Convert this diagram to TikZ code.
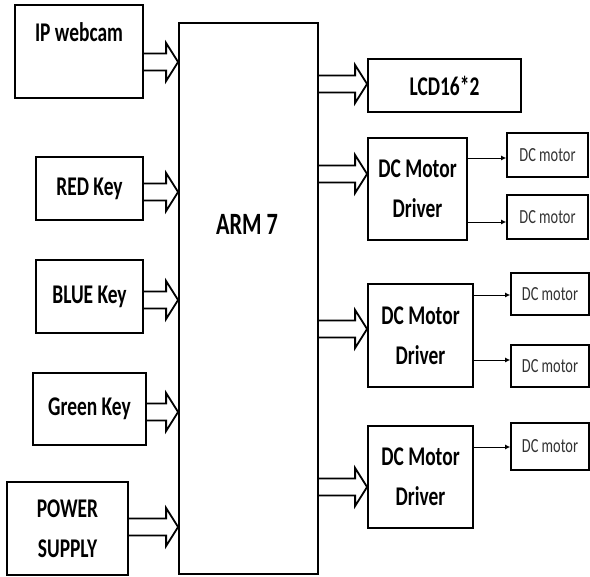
\documentclass[tikz,border=0pt]{standalone}
\usepackage{fontspec}
\newfontfamily\blockfont[FakeStretch=0.72]{Carlito}
\usetikzlibrary{calc,arrows.meta}

% hollow block arrow: source, target, level
\newcommand{\blockarrow}[3]{%
	\coordinate (ba-s) at (#1.east |- 0,#3);
	\coordinate (ba-t) at (#2.west |- 0,#3);
	\draw[hollow] ($(ba-s)+(0,-8.5)$) -- ($(ba-t)+(-12,-8.5)$) -- ($(ba-t)+(-12,-19)$) -- (ba-t)
		-- ($(ba-t)+(-12,19)$) -- ($(ba-t)+(-12,8.5)$) -- ($(ba-s)+(0,8.5)$);}

\begin{document}
\begin{tikzpicture}[x=1pt, y=-1pt, >={Latex[length=5pt,width=5pt]}, line join=miter,
	lbl/.style={font=\blockfont\bfseries\fontsize{27}{40}\selectfont},
	box/.style={draw, line width=1.8pt, inner sep=0pt, align=center, lbl},
	motor/.style={draw, line width=1.8pt, inner sep=0pt, text=black!80,
		font=\blockfont\fontsize{20}{24}\selectfont},
	hollow/.style={line width=1.8pt},
	thinarrow/.style={->, line width=0.8pt}]
	\useasboundingbox (0,0) rectangle (590,577);
	% inputs
	\node[box, minimum width=128pt, minimum height=93pt,
		label={[lbl, anchor=center, yshift=-28pt]north:IP webcam}] (cam) at (79,51.5) {};
	\node[box, minimum width=107pt, minimum height=63pt] (red) at (89.5,188.5) {RED Key};
	\node[box, minimum width=107pt, minimum height=73pt] (blue) at (89.5,296.5) {BLUE Key};
	\node[box, minimum width=113pt, minimum height=72pt] (green) at (89.5,409) {Green Key};
	\node[box, minimum width=121pt, minimum height=93pt] (power) at (67.5,528.5) {POWER\\SUPPLY};
	% controller
	\node[box, minimum width=139pt, minimum height=551pt,
		label={[lbl, font=\blockfont\bfseries\fontsize{31}{36}\selectfont, anchor=center,
			yshift=-202pt, xshift=-1.5pt]north:ARM 7}] (arm) at (248.5,298.5) {};
	% outputs
	\node[box, minimum width=153pt, minimum height=53pt] (lcd) at (444.5,85.5) {LCD16*2};
	\node[box, minimum width=99pt, minimum height=102pt] (drv1) at (417.5,189) {DC Motor\\Driver};
	\node[box, minimum width=105pt, minimum height=103pt] (drv2) at (420.5,335.5) {DC Motor\\Driver};
	\node[box, minimum width=105pt, minimum height=102pt] (drv3) at (420.5,477) {DC Motor\\Driver};
	\node[motor, minimum width=81pt, minimum height=44pt] (m1a) at (547.5,155) {DC motor};
	\node[motor, minimum width=81pt, minimum height=44pt] (m1b) at (547.5,217) {DC motor};
	\node[motor, minimum width=78pt, minimum height=42pt] (m2a) at (550,294) {DC motor};
	\node[motor, minimum width=78pt, minimum height=42pt] (m2b) at (550,366) {DC motor};
	\node[motor, minimum width=78pt, minimum height=47pt] (m3) at (550,446.5) {DC motor};
	% connections
	\foreach \src/\lev in {cam/62, red/192, blue/300, green/412, power/527}
		\blockarrow{\src}{arm}{\lev};
	\foreach \dst/\lev in {lcd/84, drv1/174, drv2/329, drv3/487}
		\blockarrow{arm}{\dst}{\lev};
	\foreach \a/\b/\lev in {drv1/m1a/158, drv1/m1b/222, drv2/m2a/295, drv2/m2b/360, drv3/m3/447}
		\draw[thinarrow] (\a.east |- 0,\lev) -- (\b.west |- 0,\lev);
\end{tikzpicture}
\end{document}
